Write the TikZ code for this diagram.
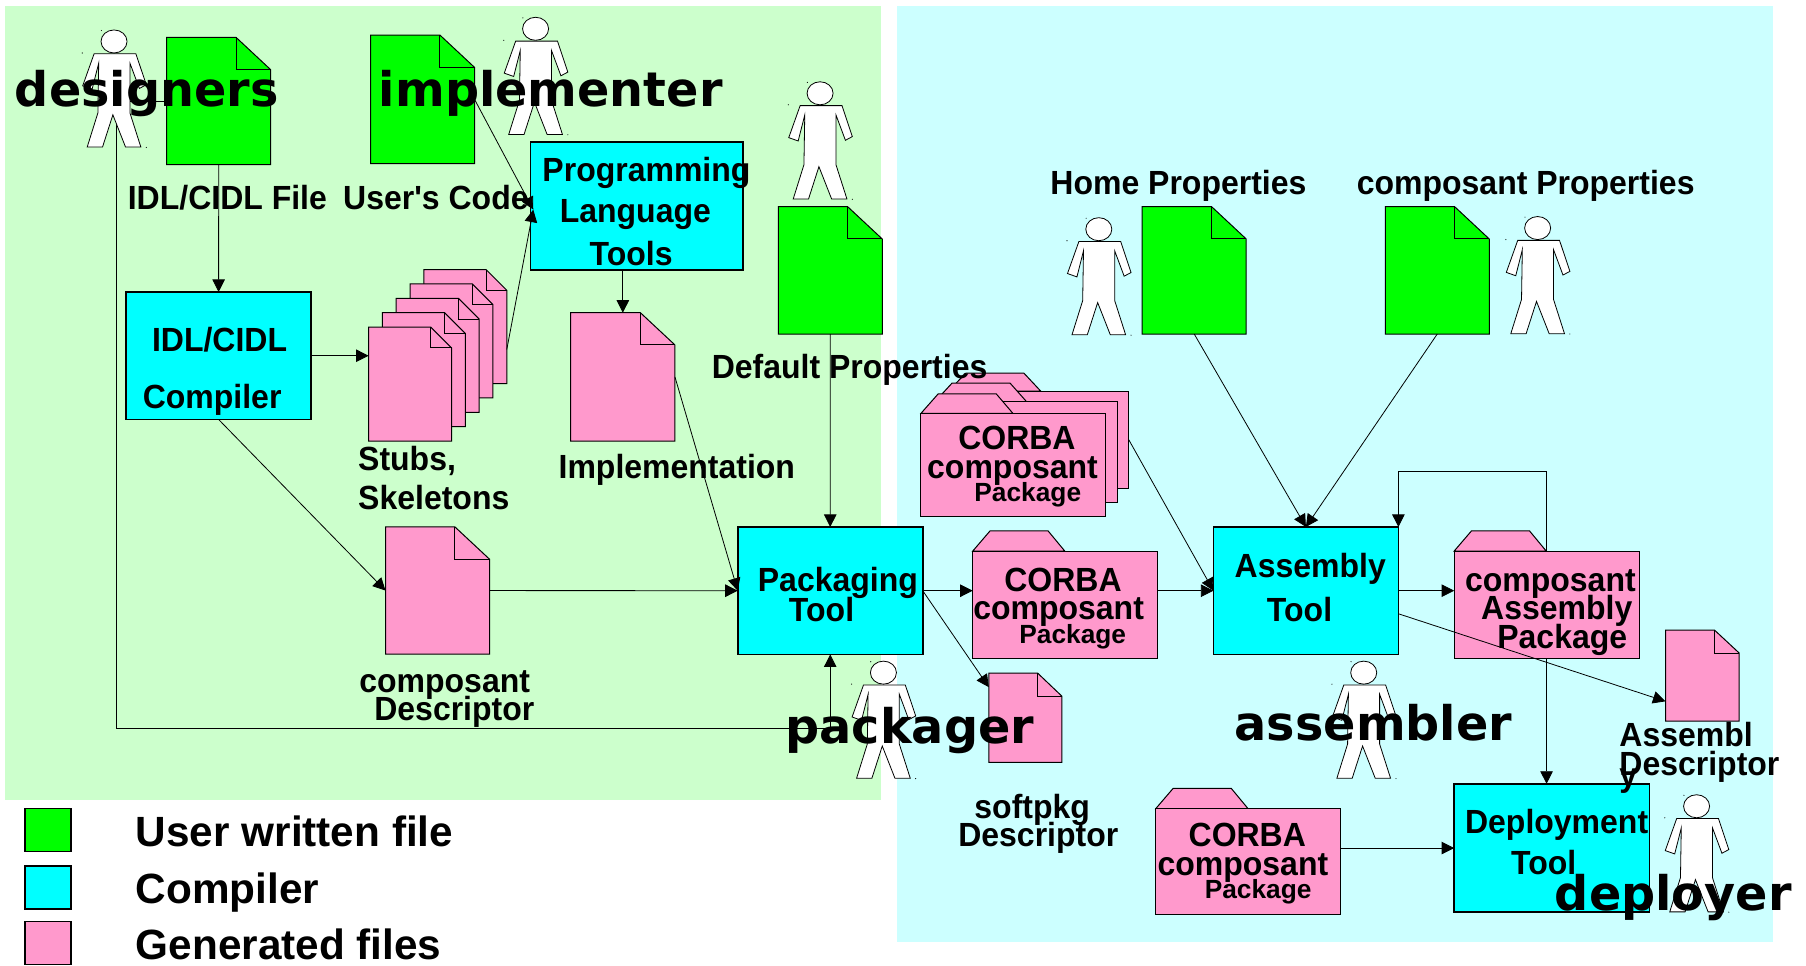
\documentclass[tikz,border=0pt]{standalone}
\usepackage{fontspec}
\setmainfont{Liberation Sans}
\newfontfamily\narrowfont[FakeStretch=.955]{Liberation Sans}
\newfontfamily\rolefont{DejaVu Sans}
\usetikzlibrary{calc}
\usetikzlibrary{arrows.meta}
\definecolor{bggreen}{HTML}{CCFFCC}
\definecolor{bgcyan}{HTML}{CCFFFF}
\definecolor{filegreen}{HTML}{00FF00}
\definecolor{toolcyan}{HTML}{00FFFF}
\definecolor{filepink}{HTML}{FF99CC}
\tikzset{
  hitbox/.style={inner sep=0pt, outer sep=0pt},
  toolbox/.style={draw=black, line width=1.6pt, fill=toolcyan, inner sep=0pt, outer sep=0pt},
  keybox/.style={draw=black, line width=1.6pt, inner sep=0pt, outer sep=0pt, minimum width=46pt, minimum height=43pt},
  outline/.style={draw=black, line width=1pt},
  link/.style={draw=black, line width=.8pt, ->},
  lbl/.style={anchor=base west, inner sep=0pt, outer sep=0pt, yshift=-.3pt, font=\narrowfont\bfseries\fontsize{33.5}{36}\selectfont},
  lblsmall/.style={lbl, font=\bfseries\fontsize{26.3}{28}\selectfont},
  lblkey/.style={lbl, font=\bfseries\fontsize{42.3}{44}\selectfont},
  lblrole/.style={lbl, font=\rolefont\bfseries\fontsize{47.7}{50}\selectfont},
  person/.pic={
    \draw[fill=white, draw=black, line width=.8pt]
      (-17.3,10.7) -- (-27.2,38.5) -- (-19,41.4) -- (-13.3,18.8) -- (-14,62)
      -- (-23.3,91.7) -- (-10,91.7) -- (-1,63.7) -- (10,91.7) -- (23.3,91.7)
      -- (13.8,62) -- (13.8,18.8) -- (22,40.8) -- (28,37.6) -- (19,10.7) -- cycle;
    \draw[fill=white, draw=black, line width=.8pt] (0,0) ellipse [x radius=11.3, y radius=10];
    \fill (-11,-9.5) circle [radius=.5];
    \fill (-27.6,10) circle [radius=.5];
    \fill (28,92) circle [radius=.5];
  }
}
% name, x, y, w, h, colour, fold w, fold h
\newcommand{\docfile}[8]{
  \draw[outline, fill=#6] (#2,#3) -- ++(#4-#7,0) -- ++(#7,#8) -- (#2+#4,#3+#5) -- (#2,#3+#5) -- cycle;
  \draw[outline] (#2+#4-#7,#3) -- ++(0,#8) -- ++(#7,0);
  \node[hitbox, minimum width={#4*1.1518pt}, minimum height={#5*1.1518pt}] (#1) at (#2+#4/2,#3+#5/2) {};
}
% name, x, y of the body, w, h of the body, tab height
\newcommand{\folder}[6]{
  \draw[outline, fill=filepink] (#2,#3) -- ++(15,-#6) -- ++(50.5,0) -- ++(14.5,#6) -- cycle;
  \draw[outline, fill=filepink] (#2,#3) rectangle ++(#4,#5);
  \node[hitbox, minimum width={#4*1.1518pt}, minimum height={#5*1.1518pt}] (#1) at (#2+#4/2,#3+#5/2) {};
}

\begin{document}
\begin{tikzpicture}[x=1.1518pt, y=-1.1518pt, >={Triangle[length=12.5pt,width=12.5pt]}]
\useasboundingbox (0,0) rectangle (1568,838.7);
\fill[bggreen] (4,5) rectangle (765,695);
\fill[bgcyan] (779,5) rectangle (1539,818);

% legend
\node[keybox, fill=filegreen, anchor=north west] (keyuser) at (21.5,702) {};
\node[keybox, fill=toolcyan, anchor=north west] (keytool) at (21.5,752) {};
\node[keybox, fill=filepink, anchor=north west] (keygen) at (21.5,800) {};

% files
\docfile{idlfile}{144.7}{32.5}{90.3}{110.5}{filegreen}{30}{28}
\docfile{usercode}{321.7}{30.5}{90.3}{111.5}{filegreen}{30}{28}
\docfile{defprops}{675.7}{179.5}{90.3}{110.5}{filegreen}{30}{28}
\docfile{homeprops}{991.7}{179.5}{90.3}{110.5}{filegreen}{30}{28}
\docfile{compprops}{1202.7}{179.5}{90.3}{110.5}{filegreen}{30}{28}
\foreach \i in {4,3,2,1,0} {
  \docfile{stub\i}{320+12*\i}{284-12.5*\i}{72}{99}{filepink}{18}{18}
}
\docfile{impl}{495.5}{271.5}{90.5}{111.5}{filepink}{30}{28}
\docfile{compdesc}{334.7}{457.5}{90.3}{110.5}{filepink}{30}{28}
\docfile{softpkg}{858.5}{584.5}{63.5}{77.5}{filepink}{21}{20}
\docfile{asmdesc}{1446}{547}{64}{79}{filepink}{21.5}{20}

% tools
\node[toolbox, minimum width=212.5pt, minimum height=127.5pt, anchor=north west] (prog) at (460.5,123.5) {};
\node[toolbox, minimum width=185pt, minimum height=127.5pt, anchor=north west] (idlcomp) at (109.5,253.5) {};
\node[toolbox, minimum width=185pt, minimum height=127.5pt, anchor=north west] (pack) at (640.5,457.5) {};
\node[toolbox, minimum width=185pt, minimum height=127.5pt, anchor=north west] (assembly) at (1053.5,457.5) {};
\node[toolbox, minimum width=195.5pt, minimum height=128.5pt, anchor=north west] (deploy) at (1262.5,680.5) {};

% packages
\folder{corbac}{823.5}{339.5}{156.5}{84.5}{15.5}
\folder{corbab}{811.5}{349}{158.5}{87}{16.3}
\folder{corbaa}{799.5}{359}{160.5}{89.5}{17}
\folder{corbad}{844.5}{478.5}{160.5}{93}{17.5}
\folder{asmpkg}{1262.5}{478.5}{160.5}{93}{17.5}
\folder{corbae}{1003.5}{702}{160.5}{92}{17.5}

% links
\draw[link] (idlfile.south) -- (idlcomp.north);
\coordinate (bend) at (101,632);
\coordinate (progin) at (463,182);
\draw[link] (idlfile.west) -| (bend) -| (pack.south);
\draw[link] (idlcomp.east) -- (idlcomp.east -| stub0.west);
\draw[link] (stub4.-29) -- (progin);
\draw[link] (usercode.east) -- (progin);
\draw[link] (prog.south -| impl.north) -- (impl.north);
\draw[link] (impl.east) -- (pack.west);
\draw[link] (idlcomp.south) -- (compdesc.west);
\draw[link] (compdesc.east) -- (pack.west);
\draw[link] (defprops.south) -- (pack.north);
\draw[link] (pack.east) -- (pack.east -| corbad.west);
\draw[link] (pack.east) -- (softpkg.140);
\draw[link] (pack.east -| corbad.east) -- (assembly.west);
\draw[link] (corbac.east) -- (assembly.west);
\draw[link] (homeprops.south) -- (assembly.north);
\draw[link] (compprops.south) -- (assembly.north);
\draw[link] (assembly.east) -- (assembly.east -| asmpkg.west);
\draw[link] (assembly.-14.3) -- (asmdesc.215);
\draw[link] (asmpkg.north) -- ++(0,-69) -| (assembly.north east);
\draw[link] (asmpkg.south) -- (asmpkg.south |- deploy.north);
\draw[link] (corbae.east |- deploy.west) -- (deploy.west);

% people
\foreach \x/\y in {99/36,465/25,712/81,954/199,1335/198,767/584,1184/584,1473/700} {
  \pic at (\x,\y) {person};
}

% labels
\foreach \nm/\x/\y/\t in {
  idltxt/111/182/{IDL/CIDL File}, codetxt/298/182/{User's Code},
  progtxta/471/157/Programming, progtxtb/486/193/Language, progtxtc/512/230/Tools,
  comptxta/132/305/{IDL/CIDL}, comptxtb/124/354/Compiler,
  stubtxta/311/408/{Stubs,}, stubtxtb/311/442/Skeletons,
  impltxt/485/415/Implementation,
  desctxta/312/601/composant, desctxtb/325/625/Descriptor,
  deftxt/618/328/{Default Properties}, hometxt/912/169/{Home Properties},
  proptxt/1178/169/{composant Properties},
  corbatxta/832/390/CORBA, corbatxtb/805/415/composant,
  corbatxtc/872/513/CORBA, corbatxtd/845/538/composant,
  corbatxte/1032/735/CORBA, corbatxtf/1005/760/composant,
  packtxta/658/513/Packaging, packtxtb/685/539/Tool,
  asmtxta/1072/501/Assembly, asmtxtb/1100/539/Tool,
  pkgtxta/1272/513/composant, pkgtxtb/1286/538/Assembly, pkgtxtc/1300/563/Package,
  softtxta/846/710/softpkg, softtxtb/832/735/Descriptor,
  adesctxta/1406/648/Assembl, adesctxtb/1406/683/y, adesctxtc/1406/673/Descriptor,
  deptxta/1272/723/Deployment, deptxtb/1312/759/Tool
} {
  \node[lbl] (\nm) at (\x,\y) {\t};
}
\foreach \nm/\x/\y in {pkgsmalla/846/435, pkgsmallb/885/558, pkgsmallc/1046/780} {
  \node[lblsmall] (\nm) at (\x,\y) {Package};
}
\foreach \nm/\x/\y/\t in {keytxta/118/735/{User written file}, keytxtb/118/784/Compiler, keytxtc/118/833/{Generated files}} {
  \node[lblkey] (\nm) at (\x,\y) {\t};
}
\foreach \nm/\x/\y/\t in {designertxt/13/92.5/designers, implementertxt/329/92/implementer, packagertxt/682/645/packager, assemblertxt/1072/643/assembler, deployertxt/1350/790.5/deployer} {
  \node[lblrole] (\nm) at (\x,\y) {\t};
}
\end{tikzpicture}
\end{document}
